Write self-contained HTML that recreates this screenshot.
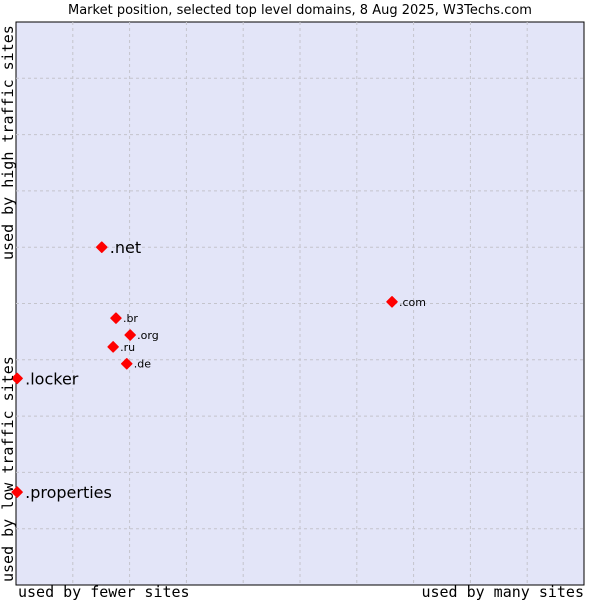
<!DOCTYPE html>
<html><head><meta charset="utf-8"><style>
body{margin:0;background:#fff;width:600px;height:600px;overflow:hidden}
svg{display:block}
</style></head><body>
<svg width="600" height="600" xmlns="http://www.w3.org/2000/svg">
<text x="300" y="14" text-anchor="middle" font-family="DejaVu Sans, sans-serif" font-size="13" fill="#000">Market position, selected top level domains, 8 Aug 2025, W3Techs.com</text>
<rect x="16" y="22" width="568" height="563" fill="#e3e5f8" stroke="#000" stroke-width="1"/>
<g id="grid"></g>
<g id="pts"></g>
<text x="18" y="597" font-family="DejaVu Sans Mono, monospace" font-size="15">used by fewer sites</text>
<text x="584" y="597" text-anchor="end" font-family="DejaVu Sans Mono, monospace" font-size="15">used by many sites</text>
<text transform="translate(13,260) rotate(-90)" font-family="DejaVu Sans Mono, monospace" font-size="15">used by high traffic sites</text>
<text transform="translate(13,582) rotate(-90)" font-family="DejaVu Sans Mono, monospace" font-size="15">used by low traffic sites</text>
</svg>
<script>
const domains=[".net",".com",".br",".org",".ru",".de",".locker",".properties"];
const xValues=[15.1,66.2,17.6,20.1,17.1,19.5,0.2,0.2];
const yValues=[60.0,50.3,47.4,44.4,42.3,39.3,36.7,16.5];
const bigLabel=[true,false,false,false,false,false,true,true];
const X0=16,W=568,Y0=22,H=563;
const sx=v=>X0+v/100*W, sy=v=>Y0+H-v/100*H;
const NS="http://www.w3.org/2000/svg";
const g=document.getElementById('grid');
for(let i=1;i<10;i++){
 let l=document.createElementNS(NS,'line');
 l.setAttribute('x1',sx(i*10));l.setAttribute('x2',sx(i*10));l.setAttribute('y1',Y0);l.setAttribute('y2',Y0+H);
 l.setAttribute('stroke','#c4c4cc');l.setAttribute('stroke-dasharray','3,3');
 
 
 g.appendChild(l);
 let m=document.createElementNS(NS,'line');
 m.setAttribute('y1',sy(i*10));m.setAttribute('y2',sy(i*10));m.setAttribute('x1',X0);m.setAttribute('x2',X0+W);
 m.setAttribute('stroke','#c4c4cc');m.setAttribute('stroke-dasharray','3,3');
 
 
 g.appendChild(m);
}
const p=document.getElementById('pts');
domains.forEach((d,i)=>{
 const x=sx(xValues[i]),y=sy(yValues[i]);
 const dm=document.createElementNS(NS,'polygon');
 dm.setAttribute('points',`${x},${y-5} ${x+5},${y} ${x},${y+5} ${x-5},${y}`);
 dm.setAttribute('fill','#f00');
 dm.setAttribute('stroke','#f00');
 dm.setAttribute('stroke-width','1.5');
 dm.setAttribute('stroke-linejoin','round');
 
 
 p.appendChild(dm);
 const t=document.createElementNS(NS,'text');
 t.setAttribute('x',x+(bigLabel[i]?8:7));t.setAttribute('y',y+(bigLabel[i]?6:4));
 t.setAttribute('font-family','DejaVu Sans, sans-serif');
 t.setAttribute('font-size',bigLabel[i]?16:11);
 t.textContent=d;
 
 
 p.appendChild(t);
});
</script>
</body></html>
